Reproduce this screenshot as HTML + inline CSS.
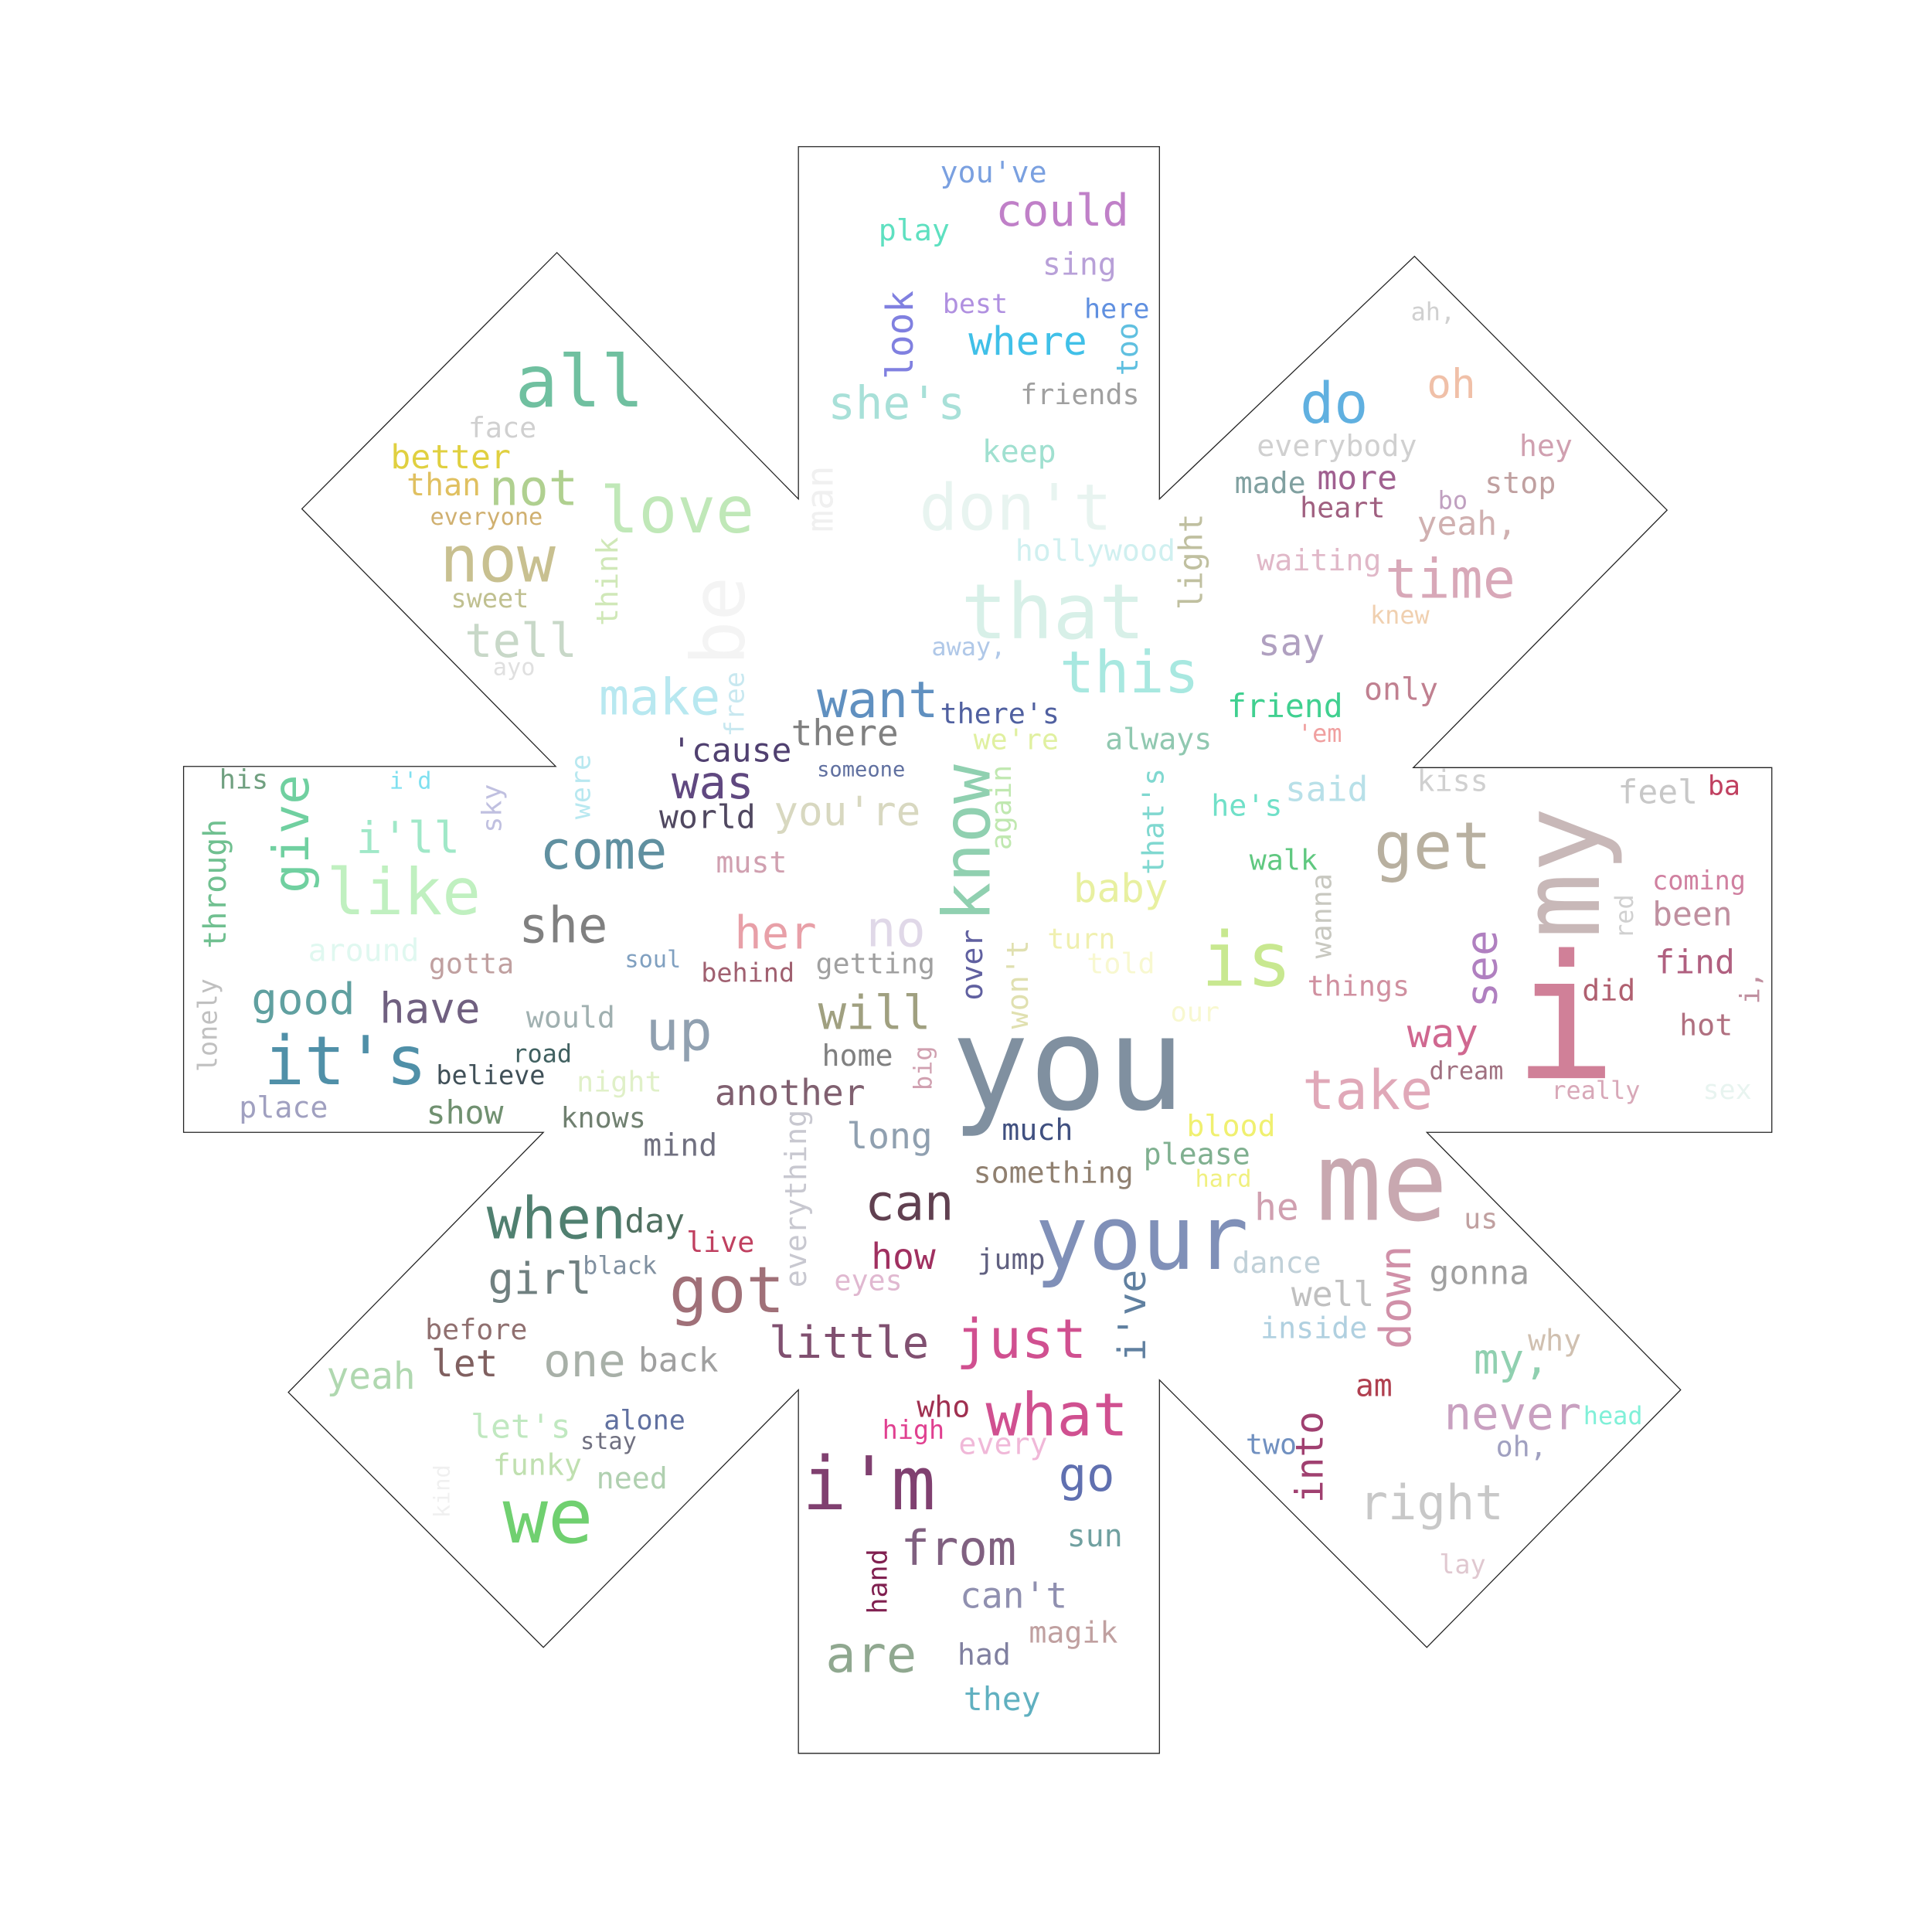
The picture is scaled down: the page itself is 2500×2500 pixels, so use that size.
<!DOCTYPE html>
<html><head><meta charset="utf-8"><style>
html,body{margin:0;padding:0;background:#fff;width:2500px;height:2500px;overflow:hidden}
svg{display:block}
text{font-family:"DejaVu Sans Mono","Liberation Mono",monospace}
</style></head><body>
<svg id="cloud" width="2500" height="2500" viewBox="0 0 1568 1568" xmlns="http://www.w3.org/2000/svg">
<rect width="1568" height="1568" fill="#fff"/>
<polygon fill="none" stroke="#222" stroke-width="0.8"
points="648,119 941,119 941,405 1148,208 1353,414 1147,623 1438,623 1438,919 1158,919 1364,1128 1158,1337 941,1120 941,1423 648,1423 648,1128 441,1337 234,1130 441,919 149,919 149,622 451,622 245,413 452,205 648,405"/>
<g id="words"></g>
</svg>
<script>
// word, x, baseline y, font size, color, rotated(1 = vertical)
const words = [
["you've",763,148,24,"#7aa0e0",0],["could",808,183,36,"#c080c8",0],["play",713,195,24,"#5ee0c0",0],
["sing",846,223,25,"#b8a0d8",0],["best",765,254,22,"#b090e0",0],["here",880,258,22,"#6090e0",0],
["look",718,308,30,"#8080e0",1],["too",905,305,24,"#60c0e0",1],["where",786,288,32,"#40c0e8",0],
["she's",672,340,37,"#a8e0d8",0],["friends",828,328,23,"#a0a0a0",0],["keep",797,375,25,"#a0e0d0",0],
["man",653,432,30,"#f0f0f0",1],["don't",746,430,52,"#e8f4f0",0],["hollywood",824,455,24,"#d0f0f0",0],
["light",956,495,26,"#c0c0a0",1],["that",780,518,62,"#d8f0e8",0],["this",860,562,47,"#a8e8e0",0],
["away,",756,532,20,"#b0c8e8",0],["want",663,582,41,"#6090c0",0],["there's",763,587,23,"#5060a0",0],
["there",642,605,29,"#808080",0],["we're",790,608,23,"#e0f0a0",0],["always",897,608,24,"#90c8b0",0],
["friend",996,582,26,"#40d090",0],["make",486,580,41,"#b8e8f0",0],["free",587,598,22,"#c8e8f0",1],
["be",558,540,60,"#f4f4f4",1],["think",483,508,24,"#d0e8b8",1],["'cause",545,618,27,"#504070",0],
["was",545,648,37,"#604880",0],["someone",663,630,17,"#6070a0",0],["world",535,672,26,"#504860",0],
["you're",628,670,33,"#d8d8c0",0],["know",763,748,53,"#90d0b0",1],["again",803,690,23,"#c0e8b0",1],
["that's",926,710,24,"#80d8d0",1],["he's",983,662,24,"#70e0c8",0],["said",1043,650,28,"#b8e0e8",0],
["kiss",1150,642,24,"#d0d0d0",0],["feel",1313,652,27,"#c8c8c8",0],["ba",1386,645,22,"#c04060",0],
["were",462,665,22,"#b8e8f0",1],["come",438,705,43,"#6090a0",0],["must",581,708,24,"#d0a0b0",0],
["baby",871,732,32,"#e8f0a0",0],["walk",1014,706,23,"#60c880",0],["get",1115,705,53,"#b8b0a0",0],
["my",1230,762,89,"#c8b8b8",1],["coming",1341,722,21,"#d080a0",0],["been",1341,751,27,"#c090a0",0],
["red",1310,762,20,"#d0d0d0",1],["wanna",1063,778,23,"#c8c8c0",1],["find",1343,790,27,"#b06080",0],
["i,",1411,815,22,"#c090a0",1],["her",596,770,37,"#e8a0a8",0],["no",703,768,40,"#e0d8e8",0],
["over",779,812,24,"#6060a0",1],["won't",816,835,24,"#e0e0b0",1],["turn",850,770,23,"#f0f0b0",0],
["told",882,790,23,"#f8f8d0",0],["is",975,800,61,"#c8e890",0],["things",1061,808,23,"#d090a0",0],
["see",1188,818,35,"#b080c0",1],["i",1228,875,140,"#d08098",0],["did",1284,812,24,"#b06070",0],
["hot",1363,840,24,"#b07080",0],["way",1142,850,32,"#d06890",0],["our",950,829,22,"#f8f8d0",0],
["take",1057,900,44,"#e0a8b8",0],["dream",1160,876,20,"#a07080",0],["really",1259,892,20,"#d8a8b8",0],
["sex",1382,892,22,"#e8f4f0",0],["you",772,900,105,"#8090a0",0],["she",421,765,40,"#808080",0],
["behind",569,797,21,"#a06070",0],["getting",662,790,23,"#a0a0a0",0],["will",664,835,38,"#a0a080",0],
["home",667,865,24,"#808080",0],["big",741,885,20,"#d0a0b0",1],["another",580,897,29,"#806070",0],
["much",813,925,24,"#405080",0],["blood",963,922,24,"#f0f070",0],["please",928,945,24,"#80b090",0],
["something",790,960,24,"#908070",0],["hard",970,963,19,"#f0f080",0],["long",687,932,29,"#90a0b0",0],
["knows",455,915,23,"#708070",0],["mind",522,938,25,"#707080",0],["everything",636,1045,24,"#c8c8d0",1],
["can",702,990,40,"#604050",0],["your",840,1030,72,"#8090b8",0],["me",1068,990,89,"#c8a8b0",0],
["he",1018,990,30,"#d0a0b0",0],["us",1188,997,23,"#c0a0a0",0],["dance",1000,1033,24,"#c0d0d8",0],
["down",1118,1095,35,"#d090a8",1],["gonna",1160,1042,27,"#a0a0a0",0],["well",1048,1060,28,"#c0c0c0",0],
["inside",1023,1086,24,"#b0d0e0",0],["why",1240,1096,24,"#d0c0b0",0],["my,",1196,1115,34,"#90d0b0",0],
["am",1100,1133,25,"#b04050",0],["never",1172,1160,37,"#c8a0c0",0],["head",1285,1156,20,"#80f0d8",0],
["oh,",1214,1182,23,"#a0a0c0",0],["two",1011,1180,23,"#7090c0",0],["into",1050,1220,31,"#a04070",1],
["right",1103,1233,39,"#c8c8c8",0],["lay",1168,1277,21,"#e0c8d0",0],["when",395,1005,47,"#508070",0],
["day",507,1000,27,"#507060",0],["live",557,1016,23,"#c04060",0],["girl",396,1050,35,"#708080",0],
["black",473,1034,20,"#8090a0",0],["got",543,1065,52,"#a07078",0],["how",707,1030,29,"#a03060",0],
["jump",793,1030,23,"#606080",0],["eyes",677,1047,23,"#e0b8d0",0],["i've",906,1105,31,"#6080a0",1],
["before",345,1087,23,"#907070",0],["let",350,1117,30,"#806060",0],["one",441,1117,37,"#a8b0a8",0],
["back",518,1113,27,"#a0a0a0",0],["little",624,1102,36,"#805070",0],["just",776,1102,44,"#d05090",0],
["yeah",265,1127,30,"#b0d8b0",0],["let's",382,1167,27,"#c0e8c0",0],["alone",490,1160,22,"#6070a0",0],
["stay",471,1176,19,"#707080",0],["who",744,1150,24,"#a03050",0],["high",716,1168,21,"#e04090",0],
["every",778,1180,24,"#f0b8d8",0],["what",800,1165,48,"#d05090",0],["funky",400,1197,24,"#c0e0b0",0],
["need",484,1208,24,"#b0d0b0",0],["go",859,1210,38,"#6070b0",0],["kind",351,1232,18,"#f0f0f0",1],
["we",408,1252,61,"#70d070",0],["i'm",651,1225,60,"#804070",0],["from",731,1270,39,"#806080",0],
["sun",866,1255,25,"#70a0a0",0],["hand",703,1310,22,"#802050",1],["can't",779,1305,29,"#9090b0",0],
["magik",835,1333,24,"#c0a0a0",0],["had",777,1351,24,"#8080a0",0],["are",670,1357,41,"#90a890",0],
["they",782,1388,26,"#60b0c0",0],["his",178,640,22,"#70a080",0],["i'd",316,640,19,"#80e0f0",0],
["sky",390,676,22,"#c0c0e0",1],["give",220,725,40,"#70d0a0",1],["through",164,770,25,"#70c090",1],
["i'll",289,692,35,"#a0e8c8",0],["like",265,742,52,"#c0f0c0",0],["around",250,780,25,"#e0f8f0",0],
["gotta",348,790,23,"#c0a0a0",0],["soul",507,785,19,"#80a0c0",0],["good",204,823,35,"#60a0a0",0],
["have",308,830,34,"#706080",0],["would",427,834,24,"#a0b0b0",0],["lonely",160,870,21,"#c0c0c0",1],
["it's",214,880,55,"#5090a8",0],["road",416,862,20,"#406060",0],["believe",354,880,21,"#405058",0],
["night",468,886,23,"#e0f0c8",0],["up",524,852,45,"#90a0b0",0],["place",194,907,24,"#a0a0c0",0],
["show",346,912,26,"#709070",0],["all",418,330,58,"#70c0a0",0],["face",380,355,23,"#d0d0d0",0],
["better",317,380,27,"#e0d040",0],["than",330,402,25,"#e0c060",0],["not",397,410,40,"#b0d090",0],
["everyone",349,426,19,"#d0b070",0],["love",487,432,52,"#c0e8b8",0],["now",357,472,52,"#c8c090",0],
["sweet",366,493,21,"#c0c090",0],["tell",377,533,38,"#c8d8c8",0],["ayo",400,548,19,"#e0e0e0",0],
["ah,",1145,260,20,"#d0d0d0",0],["do",1055,343,46,"#60b0e0",0],["oh",1158,323,33,"#f0c0a8",0],
["everybody",1020,370,24,"#d0d0d0",0],["hey",1233,370,24,"#d0a0b0",0],["made",1002,400,24,"#80a0a0",0],
["more",1069,397,27,"#a06090",0],["stop",1205,400,24,"#c0a0a0",0],["heart",1055,420,23,"#a06080",0],
["bo",1167,413,20,"#c0a0c0",0],["yeah,",1150,434,27,"#d0b0b0",0],["waiting",1020,463,24,"#e0b8c8",0],
["time",1124,485,44,"#d8a8b8",0],["knew",1112,506,20,"#f0d0b0",0],["say",1021,532,30,"#b0a0c0",0],
["only",1107,568,25,"#c08090",0],["'em",1053,602,20,"#f0a0a0",0]
];
const g = document.getElementById('words');
const NS = 'http://www.w3.org/2000/svg';
for (const w of words) {
  const t = document.createElementNS(NS, 'text');
  t.textContent = w[0];
  t.setAttribute('font-size', w[3]);
  t.setAttribute('fill', w[4]);
  let x = w[1], y = w[2];
  if (w[5]) {
    x = x + w[3] * 0.76;
    t.setAttribute('transform', 'rotate(-90 ' + x + ' ' + y + ')');
  }
  t.setAttribute('x', x);
  t.setAttribute('y', y);
  
  
  g.appendChild(t);
}
</script>
</body></html>
